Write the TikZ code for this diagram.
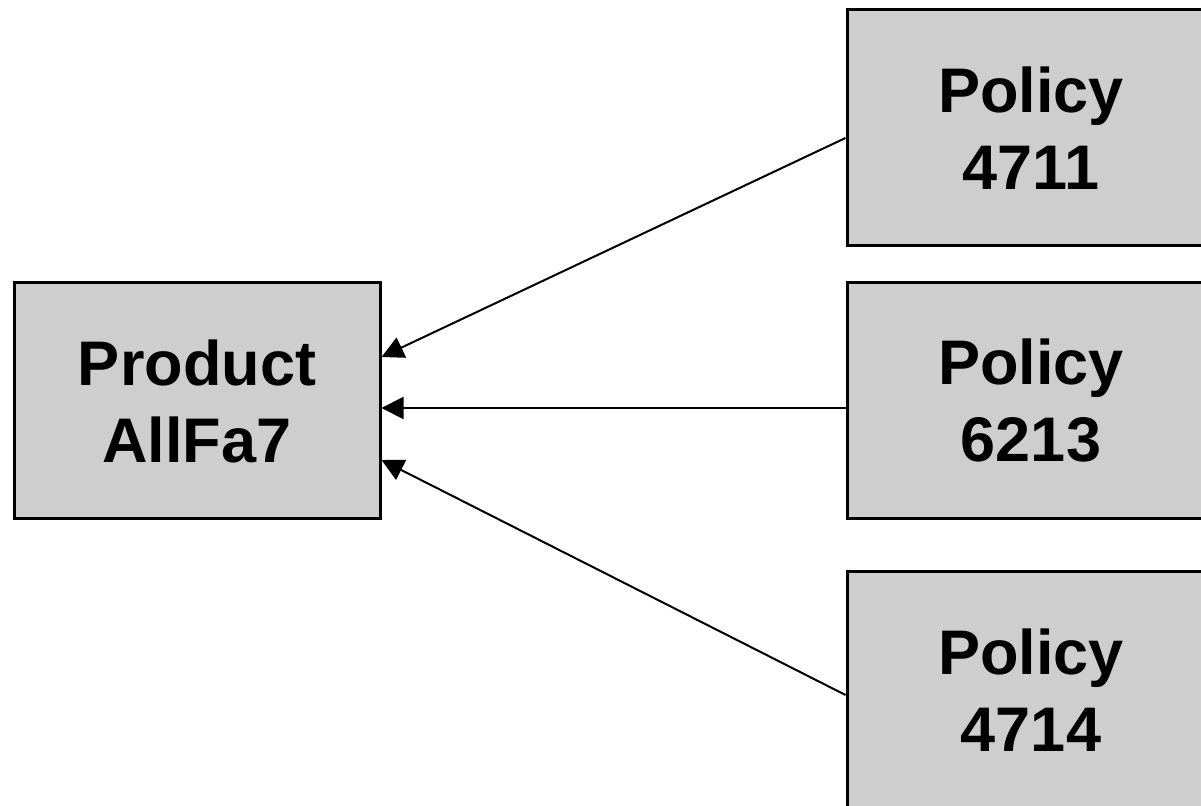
\documentclass[tikz,border=0pt]{standalone}
\usepackage{fontspec}
\setmainfont{Liberation Sans}
\usepackage{xcolor}
\usepackage{tikz}
\usetikzlibrary{arrows.meta}
\definecolor{boxGray}{RGB}{206,206,206}

\begin{document}
\begin{tikzpicture}[x=0.5pt,y=-0.5pt,
  itembox/.style={draw=black, line width=1.5pt, fill=boxGray, align=center,
    minimum width=183pt, minimum height=118pt, inner sep=0pt,
    font=\fontsize{31.5}{38.5}\selectfont\bfseries},
  link/.style={line width=1pt, -{Triangle[length=11pt,width=11pt]}}]
% Page frame
\clip (0,0) rectangle (1201,806);
\fill[white] (0,0) rectangle (1201,806);

% Boxes
\node[itembox] (prod) at (197,401) {Product\\AllFa7};
\node[itembox, minimum width=184pt] (p4711) at (1031,128) {Policy\\4711};
\node[itembox, minimum width=184pt] (p6213) at (1031,401) {Policy\\6213};
\node[itembox, minimum width=184pt] (p4714) at (1031,690) {Policy\\4714};

% Links
\draw[link] ([yshift=-5pt]p4711.west) -- ([yshift=22pt]prod.east);
\draw[link] ([yshift=-3.5pt]p6213.west) -- ([yshift=-3.5pt]prod.east);
\draw[link] ([yshift=-2.5pt]p4714.west) -- ([yshift=-29.5pt]prod.east);
\end{tikzpicture}
\end{document}
